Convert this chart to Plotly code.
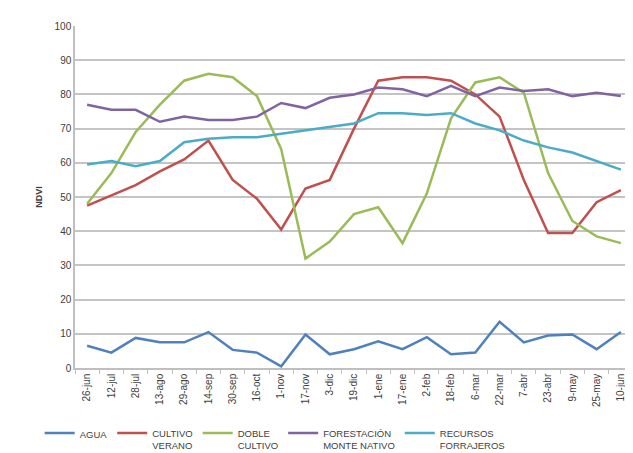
import plotly.graph_objects as go

fechas = ["26-jun", "12-jul", "28-jul", "13-ago", "29-ago", "14-sep", "30-sep", "16-oct",
          "1-nov", "17-nov", "3-dic", "19-dic", "1-ene", "17-ene", "2-feb", "18-feb",
          "6-mar", "22-mar", "7-abr", "23-abr", "9-may", "25-may", "10-jun"]

agua = [6.5, 4.5, 8.8, 7.5, 7.5, 10.5, 5.3, 4.5, 0.5, 9.8, 4.0, 5.5, 7.8, 5.5, 9.0, 4.0,
        4.5, 13.5, 7.5, 9.5, 9.8, 5.5, 10.5]
cultivo_verano = [47.5, 50.5, 53.5, 57.5, 61, 66.5, 55, 49.5, 40.5, 52.5, 55, 70, 84, 85,
                  85, 84, 80, 73.5, 55, 39.5, 39.5, 48.5, 52]
doble_cultivo = [48, 57, 69, 77, 84, 86, 85, 79.5, 64, 32, 37, 45, 47, 36.5, 51, 73, 83.5,
                 85, 80.5, 57, 43, 38.5, 36.5]
forestacion = [77, 75.5, 75.5, 72, 73.5, 72.5, 72.5, 73.5, 77.5, 76, 79, 80, 82, 81.5, 79.5,
               82.5, 79.5, 82, 81, 81.5, 79.5, 80.5, 79.5]
recursos = [59.5, 60.5, 59, 60.5, 66, 67, 67.5, 67.5, 68.5, 69.5, 70.5, 71.5, 74.5, 74.5,
            74, 74.5, 71.5, 69.5, 66.5, 64.5, 63, 60.5, 58]

series = [
    ("AGUA", agua, "#4F81BD"),
    ("CULTIVO<br>VERANO", cultivo_verano, "#C0504D"),
    ("DOBLE<br>CULTIVO", doble_cultivo, "#9BBB59"),
    ("FORESTACIÓN<br>MONTE NATIVO", forestacion, "#8064A2"),
    ("RECURSOS<br>FORRAJEROS", recursos, "#4BACC6"),
]

fig = go.Figure()
for name, vals, color in series:
    fig.add_trace(go.Scatter(x=fechas, y=vals, name=name, mode="lines",
                             line=dict(color=color, width=2.5)))

fig.update_layout(
    width=633, height=453,
    margin=dict(l=67, r=8, t=18, b=93, autoexpand=False),
    paper_bgcolor="white", plot_bgcolor="white",
    font=dict(family="Liberation Sans, Arial, sans-serif", size=10, color="#404040"),
    showlegend=True,
    legend=dict(orientation="h", xref="container", yref="container",
                x=0.05, xanchor="left", y=0.09, yanchor="top",
                font=dict(size=9.5, color="#404040"), valign="top",
                tracegroupgap=0, itemwidth=30),
    yaxis=dict(range=[0, 100], dtick=10, showgrid=True, gridcolor="#C4C4C4", gridwidth=2,
               showline=True, linecolor="#BFBFBF", linewidth=1.5, zeroline=False,
               ticks="", tickfont=dict(size=10, color="#404040"), automargin=False,
               title=dict(text="<b>NDVI</b>", font=dict(size=9), standoff=10)),
    xaxis=dict(type="category", range=[-0.5, 22.5], showgrid=False, showline=True,
               linecolor="#BFBFBF", linewidth=1.5, ticks="outside", ticklen=4,
               tickcolor="#BFBFBF", tickson="boundaries", tickangle=-90,
               automargin=False, tickfont=dict(size=10, color="#404040")),
)

fig.write_html("out.html")
